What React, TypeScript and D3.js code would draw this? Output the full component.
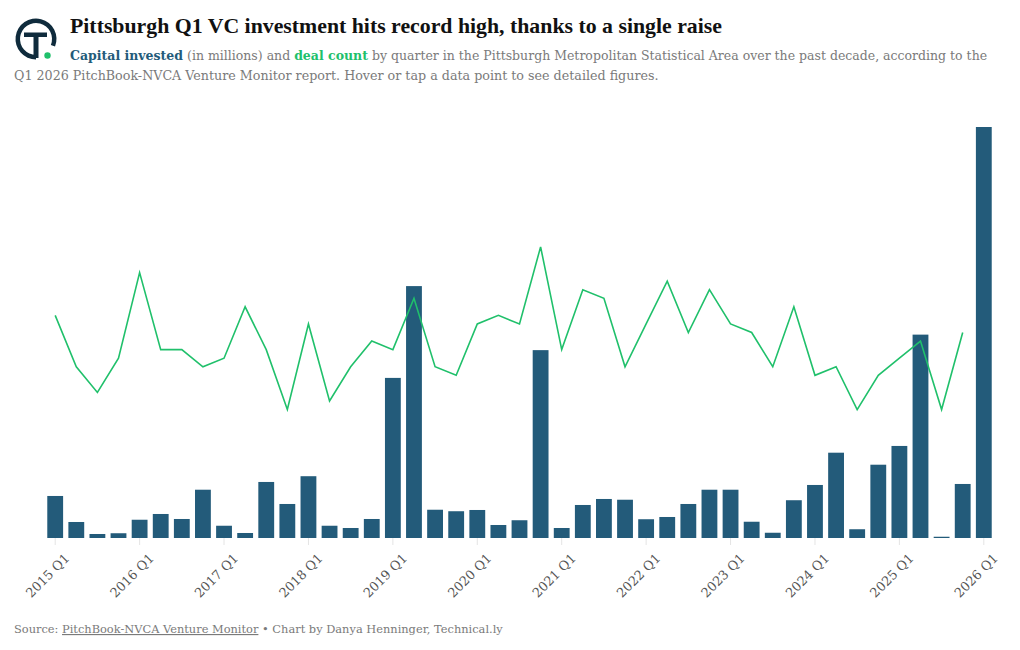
import React, { useEffect, useRef } from 'react';
import * as d3 from 'd3';

// quarters 2015 Q1 .. 2026 Q1
const years = d3.range(2015, 2027);
const quarters: string[] = [];
years.forEach(y => [1, 2, 3, 4].forEach(q => { if (y < 2026 || q === 1) quarters.push(`${y} Q${q}`); }));

// capital invested, $M
const capital = [
  168, 64, 16, 19, 73, 96, 76, 193, 49, 20, 224, 136, 247, 49, 40, 76,
  640, 1007, 113, 107, 112, 52, 71, 751, 40, 132, 156, 153, 75, 84, 136, 193,
  193, 65, 21, 151, 212, 341, 35, 293, 368, 813, 5, 216, 1643,
];

// deal count (no figure yet for 2026 Q1)
const deals = [
  26, 20, 17, 21, 31, 22, 22, 20, 21, 27, 22, 15, 25, 16, 20, 23,
  22, 28, 20, 19, 25, 26, 25, 34, 22, 29, 28, 20, 25, 30, 24, 29,
  25, 24, 20, 27, 19, 20, 15, 19, 21, 23, 15, 24, null,
];

const tickLabels = quarters.filter(q => q.endsWith('Q1'));

const navy = '#0f2b3c';
const barColor = '#235b7a';
const green = '#20c06b';
const gray = '#7a7a7a';
const titleFont = "'Liberation Serif', serif";
const font = "'DejaVu Serif', serif";

const App: React.FC = () => {
  const ref = useRef<SVGSVGElement>(null);

  useEffect(() => {
    const svg = d3.select(ref.current);
    svg.selectAll('*').remove();

    const width = 1020;
    const height = 650;
    const baseline = 538;
    const top = 127;

    svg.attr('viewBox', [0, 0, width, height])
      .style('font-family', font);

    // logo
    const logo = svg.append('g').attr('transform', 'translate(36,39)');
    logo.append('path')
      .attr('d', d3.arc()({ innerRadius: 16, outerRadius: 20.5, startAngle: -Math.PI, endAngle: 1.95 }))
      .attr('fill', navy);
    logo.append('rect').attr('x', -12).attr('y', -6.5).attr('width', 23).attr('height', 4.5).attr('fill', navy);
    logo.append('rect').attr('x', -2.5).attr('y', -4).attr('width', 5).attr('height', 23).attr('fill', navy);
    logo.append('circle').attr('cx', 11.5).attr('cy', 16.5).attr('r', 3.2).attr('fill', green);

    // title + subtitle
    svg.append('text')
      .attr('x', 70).attr('y', 33)
      .attr('font-family', titleFont)
      .attr('font-size', 21.8).attr('font-weight', 700).attr('fill', '#111')
      .text('Pittsburgh Q1 VC investment hits record high, thanks to a single raise');

    const sub = svg.append('text').attr('font-size', 12.7).attr('fill', gray);
    const l1 = sub.append('tspan').attr('x', 70).attr('y', 60).attr('font-size', 12.5);
    l1.append('tspan').attr('fill', barColor).attr('font-weight', 700).text('Capital invested');
    l1.append('tspan').text(' (in millions) and ');
    l1.append('tspan').attr('fill', green).attr('font-weight', 700).text('deal count');
    l1.append('tspan').text(' by quarter in the Pittsburgh Metropolitan Statistical Area over the past decade, according to the');
    sub.append('tspan').attr('x', 14).attr('y', 80)
      .text('Q1 2026 PitchBook-NVCA Venture Monitor report. Hover or tap a data point to see detailed figures.');

    // scales
    const x = d3.scaleBand<string>()
      .domain(quarters)
      .range([42, 997])
      .padding(0.25);

    const yCap = d3.scaleLinear()
      .domain([0, d3.max(capital) as number])
      .range([baseline, top]);

    const yDeals = d3.scaleLinear()
      .domain([0, 48])
      .range([baseline, top]);

    // x axis: ticks at each Q1
    const xAxis = svg.append('g')
      .attr('transform', `translate(0,${baseline})`)
      .call(d3.axisBottom(x).tickValues(tickLabels).tickSize(7).tickSizeOuter(0))
      .call(g => g.select('.domain').remove())
      .call(g => g.selectAll('.tick line').attr('stroke', '#e4e4e4'));
    xAxis.selectAll('.tick text')
      .attr('font-family', font)
      .attr('font-size', 12.8)
      .attr('fill', '#555')
      .attr('text-anchor', 'end')
      .attr('dy', 0)
      .attr('transform', 'translate(8,14) rotate(-45)');

    // bars
    svg.append('g')
      .selectAll('rect')
      .data(capital)
      .join('rect')
      .attr('x', (d, i) => x(quarters[i]) as number)
      .attr('y', d => yCap(d))
      .attr('width', x.bandwidth())
      .attr('height', d => baseline - yCap(d))
      .attr('fill', barColor);

    // deal count line
    const line = d3.line<number | null>()
      .defined(d => d != null)
      .x((d, i) => (x(quarters[i]) as number) + x.bandwidth() / 2)
      .y(d => yDeals(d as number));

    svg.append('path')
      .datum(deals)
      .attr('fill', 'none')
      .attr('stroke', green)
      .attr('stroke-width', 1.6)
      .attr('d', line);

    // footer
    const foot = svg.append('text')
      .attr('x', 14).attr('y', 633)
      .attr('font-size', 11.4).attr('fill', gray);
    foot.append('tspan').text('Source: ');
    foot.append('tspan').attr('text-decoration', 'underline').text('PitchBook-NVCA Venture Monitor');
    foot.append('tspan').text(' \u2022 Chart by Danya Henninger, Technical.ly');
  }, []);

  return (
    <svg ref={ref} width={1020} height={650}
      style={{ position: 'absolute', left: 0, top: 0, display: 'block' }} />
  );
};

export default App;
